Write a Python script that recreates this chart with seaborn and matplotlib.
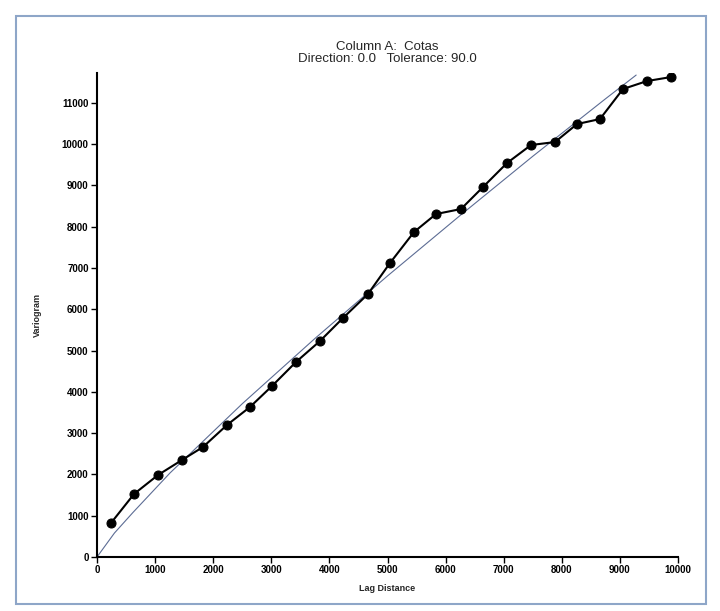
import matplotlib
matplotlib.use("Agg")
import matplotlib.pyplot as plt
import seaborn as sns
import pandas as pd
from matplotlib.patches import Rectangle

lag = [241, 637, 1050, 1463, 1824, 2237, 2633, 3012, 3425, 3838, 4234, 4664,
       5043, 5456, 5835, 6265, 6644, 7057, 7470, 7883, 8262, 8657, 9053, 9466, 9880]
gamma = [823, 1525, 1985, 2349, 2663, 3196, 3632, 4140, 4722, 5230, 5787, 6368,
         7119, 7869, 8305, 8426, 8959, 9540, 9976, 10048, 10484, 10605, 11332, 11525, 11622]

# Fitted model curve
model_lag = [0, 300, 620, 1256, 2500, 3750, 5000, 6250, 7500, 8750, 9280]
model_gamma = [0, 580, 1080, 2034, 3711, 5290, 6806, 8270, 9703, 11093, 11670]

xticks = list(range(0, 10001, 1000))
yticks = list(range(0, 11001, 1000))

title = "Column A:  Cotas\nDirection: 0.0   Tolerance: 90.0"

sns.set_style("white")
plt.rcParams['font.family'] = ['Liberation Sans', 'DejaVu Sans']

fig = plt.figure(figsize=(7.2, 6.11), dpi=100)
ax = fig.add_axes([97/720, 1-557/611, (678-97)/720, (557-73)/611])

df = pd.DataFrame({"lag": lag, "gamma": gamma})
dm = pd.DataFrame({"lag": model_lag, "gamma": model_gamma})

sns.lineplot(data=dm, x="lag", y="gamma", ax=ax, color="#5c6c94", linewidth=0.8,
             sort=False, estimator=None)
sns.lineplot(data=df, x="lag", y="gamma", ax=ax, color="black", linewidth=1.5,
             marker="o", markersize=6.5, markeredgecolor="black",
             markerfacecolor="black", sort=False, estimator=None)

ax.set_xlim(0, 10000)
ax.set_ylim(0, 11720)
ax.set_xticks(xticks)
ax.set_yticks(yticks)
ax.set_xticklabels([str(t) for t in xticks], fontsize=7, fontweight="bold")
ax.set_yticklabels([str(t) for t in yticks], fontsize=7, fontweight="bold")
ax.tick_params(axis="both", direction="out", length=4, width=1, pad=2,
               bottom=True, left=True, colors="black")
for s in ["top", "right"]:
    ax.spines[s].set_visible(False)
for s in ["left", "bottom"]:
    ax.spines[s].set_linewidth(1.5)
    ax.spines[s].set_color("black")

ax.set_xlabel("Lag Distance", fontsize=6.5, fontweight="bold", labelpad=6)
ax.set_ylabel("Variogram", fontsize=6.5, fontweight="bold", labelpad=14)
ax.set_title(title, fontsize=9.5, pad=8, linespacing=1.0)

fig.patches.append(Rectangle((16/720, 1-604/611), (706-16)/720, (604-16)/611,
                             transform=fig.transFigure, fill=False,
                             edgecolor="#8ea6c8", linewidth=1.5))

fig.savefig("out.png", dpi=100)
